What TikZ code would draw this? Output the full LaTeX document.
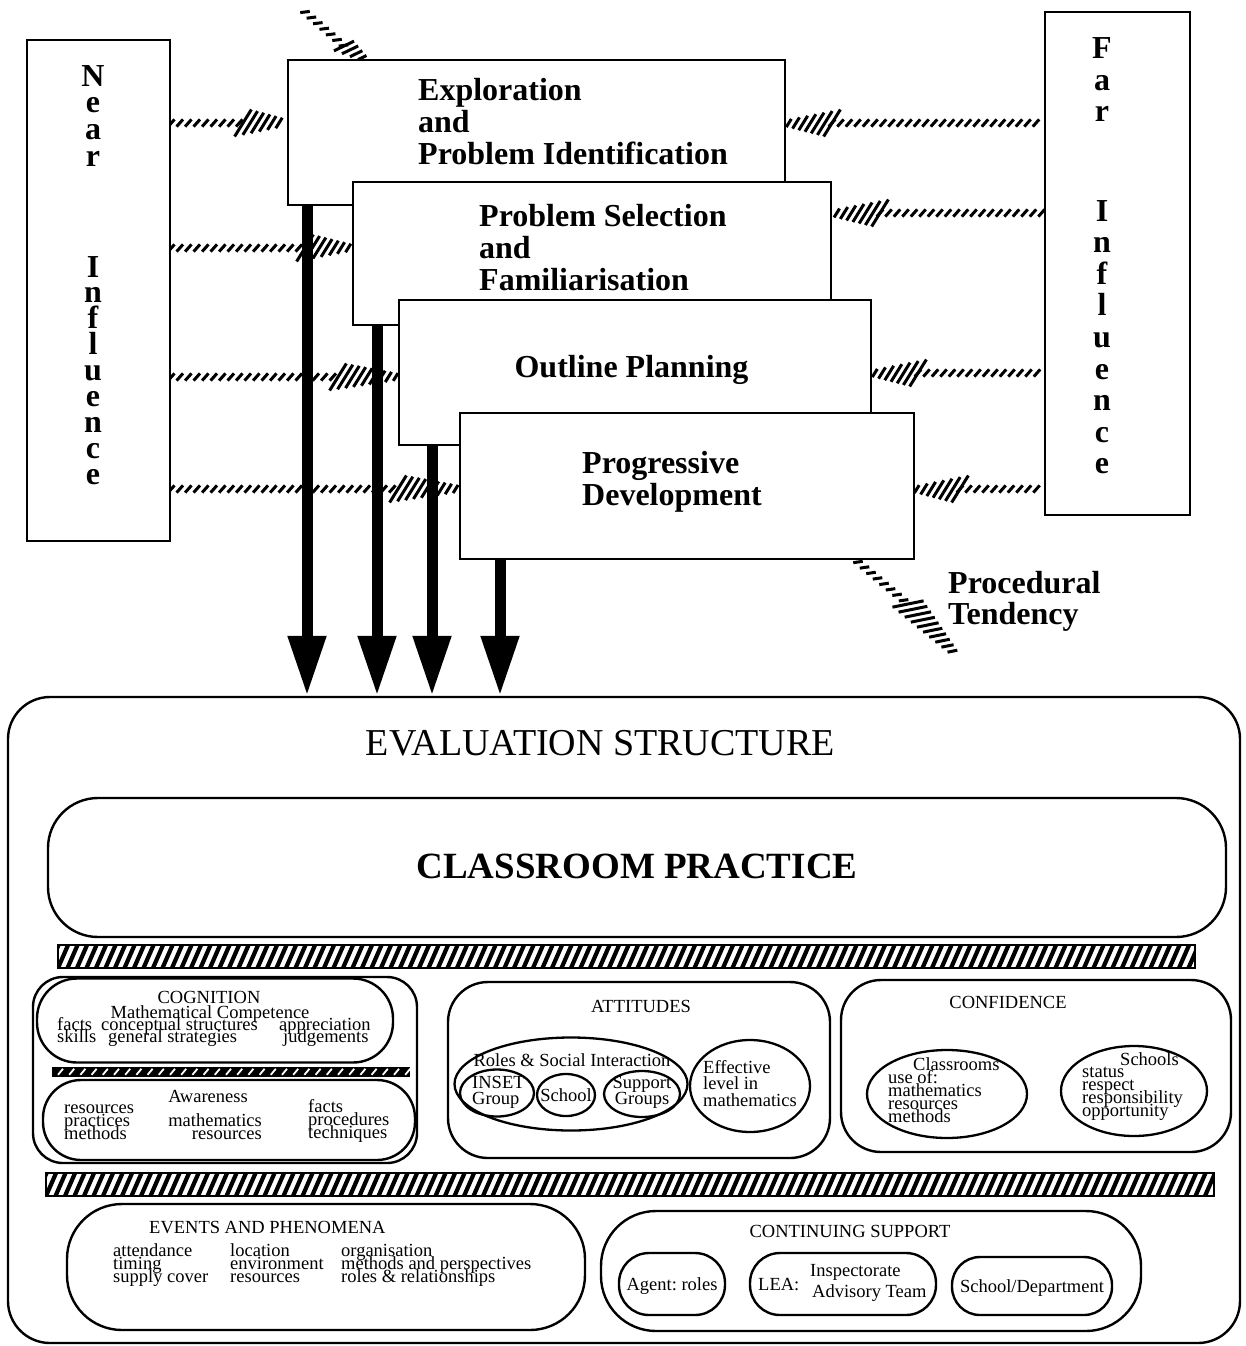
\documentclass[tikz,border=0pt]{standalone}
\usepackage{fontspec}
\setmainfont{Liberation Serif}
\usetikzlibrary{arrows.meta,decorations.markings,shapes.geometric,backgrounds}

% one column of text lines: style, anchor, name prefix, x, first baseline, step, lines
\newcommand\mytextcol[7]{\foreach \txt [count=\i] in {#7} {\node[#1, anchor=#2] (#3\i) at (#4,{#5+(\i-1)*#6}) {\txt};}}

\begin{document}
\begin{tikzpicture}[x=1pt,y=-1pt,
  stage/.style={draw, line width=2.6pt, fill=white, rectangle, inner sep=0pt},
  pane/.style={draw, line width=2.4pt, rectangle, inner sep=0pt},
  oval/.style={draw, line width=2.3pt, ellipse, inner sep=0pt},
  bigtxt/.style={inner sep=0pt, font=\fontsize{32}{32}\selectfont\bfseries, align=left},
  letter/.style={inner sep=0pt, font=\fontsize{32}{32}\selectfont\bfseries},
  sm/.style={inner sep=0pt, font=\fontsize{18.5}{13.5}\selectfont},
  bigarrow/.style={line width=11pt, -{Triangle[width=36pt,length=60pt]}},
  hatchtail/.style={decorate, decoration={markings,
      mark=between positions 0 and 1 step 8.5pt with {\draw[line width=3pt] (-3.2,3.6) -- (3.2,-3.6);}}},
  hatchhead/.style={decorate, decoration={markings,
      mark=between positions 0 and 0.97 step 7.2pt with {%
        \pgfmathsetmacro\hh{3.5+#1*(1-\pgfkeysvalueof{/pgf/decoration/mark info/distance from start}/\pgfdecoratedpathlength)}%
        \draw[line width=3pt] ({-0.62*\hh},\hh) -- ({0.62*\hh},-\hh);}}},
  hatchhead/.default=10,
  stripes/.style={path picture={\foreach \k in {-4,...,#1}
      \draw[line width=4.2pt] ([xshift=\k*9.5pt]path picture bounding box.south west) -- ++(14,-32);}},
  minibar/.style={fill=black, inner sep=0pt, path picture={\foreach \k in {0,...,#1}
      \draw[white, line width=1.8pt] ([xshift=6pt+\k*11.2pt, yshift=2.2pt]path picture bounding box.south west) -- ++(5,-6);}},
]
\useasboundingbox (0,0) rectangle (1245,1346);

% ---------- influences ----------
\node[stage, minimum width=143pt, minimum height=501pt] (near) at (98.5,290.5) {};
\node[stage, minimum width=145pt, minimum height=503pt] (far) at (1117.5,263.5) {};
\mytextcol{letter}{base}{nearA}{93}{86}{26.7}{N,e,a,r}
\mytextcol{letter}{base}{nearB}{93}{277}{25.9}{I,n,f,l,u,e,n,c,e}
\mytextcol{letter}{base}{farA}{1102}{59}{31}{F,a,r}
\mytextcol{letter}{base}{farB}{1102}{221}{31.6}{I,n,f,l,u,e,n,c,e}

% ---------- process stages, each one over the previous ----------
\node[stage, minimum width=497pt, minimum height=145pt] (explore) at (536.5,132.5) {};
\node[bigtxt, anchor=north west] (exploreT) at (418,78) {Exploration\\and\\Problem Identification};
\node[stage, minimum width=478pt, minimum height=143pt] (select) at (592,253.5) {};
\node[bigtxt, anchor=north west] (selectT) at (479,204) {Problem Selection\\and\\Familiarisation};
\node[stage, minimum width=472pt, minimum height=145pt] (plan) at (635,372.5) {};
\node[bigtxt, anchor=base] (planT) at (631.5,377) {Outline Planning};
\node[stage, minimum width=454pt, minimum height=146pt] (develop) at (687,486) {};
\node[bigtxt, anchor=north west] (developT) at (582,451) {Progressive\\Development};
\node[bigtxt, anchor=north west, font=\fontsize{32}{31}\selectfont\bfseries] (procT) at (948,571) {Procedural\\Tendency};

% ---------- hatched influence arrows ----------
\coordinate (l1) at (243,123);
\coordinate (l2) at (305,248);
\coordinate (l3) at (338,377);
\coordinate (l4) at (398,489);
\coordinate (r1) at (832,123);
\coordinate (r2) at (880,213);
\coordinate (r3) at (918,373);
\coordinate (r4) at (960,489);
\coordinate (tp) at (305,12);
\coordinate (tq) at (344,46);
\coordinate (tr) at (364,0);
\coordinate (pa) at (858,562);
\coordinate (pb) at (908,604);
\coordinate (pc) at (956,655);
\begin{scope}[on background layer]
  \path[hatchtail] (l1 -| near.east) -- (l1);
  \path[hatchhead] (l1) -- (l1 -| explore.west);
  \path[hatchtail] (l2 -| near.east) -- (l2);
  \path[hatchhead] (l2) -- (l2 -| select.west);
  \path[hatchtail] (l3 -| near.east) -- (l3);
  \path[hatchhead] (l3) -- (l3 -| plan.west);
  \path[hatchtail] (l4 -| near.east) -- (l4);
  \path[hatchhead] (l4) -- (l4 -| develop.west);
  \path[hatchhead] (r1) -- (r1 -| explore.east);
  \path[hatchtail] (r1) -- (r1 -| far.west);
  \path[hatchhead] (r2) -- (r2 -| select.east);
  \path[hatchtail] (r2) -- (r2 -| far.west);
  \path[hatchhead] (r3) -- (r3 -| plan.east);
  \path[hatchtail] (r3) -- (r3 -| far.west);
  \path[hatchhead] (r4) -- (r4 -| develop.east);
  \path[hatchtail] (r4) -- (r4 -| far.west);
  \path[hatchtail] (tp) -- (tq);
  \path[hatchhead=6] (tq) -- (explore.north -| tr);
  \path[hatchtail] (pa) -- (pb);
  \path[hatchhead] (pb) -- (pc);
\end{scope}

% ---------- evaluation structure ----------
\node[pane, rounded corners=42pt, minimum width=1232pt, minimum height=646pt] (eval) at (624,1020) {};
\node[inner sep=0pt, font=\fontsize{38}{38}\selectfont, anchor=base] (evalT) at (600.5,755) {EVALUATION STRUCTURE};

\coordinate (a1) at (307,0);
\coordinate (a2) at (377,0);
\coordinate (a3) at (432,0);
\coordinate (a4) at (500,0);
\draw[bigarrow] (explore.south -| a1) -- (eval.north -| a1);
\draw[bigarrow] (select.south -| a2) -- (eval.north -| a2);
\draw[bigarrow] (plan.south -| a3) -- (eval.north -| a3);
\draw[bigarrow] (develop.south -| a4) -- (eval.north -| a4);

\node[pane, rounded corners=50pt, minimum width=1178pt, minimum height=139pt] (class) at (637,867.5) {};
\node[inner sep=0pt, font=\fontsize{37}{37}\selectfont\bfseries, anchor=base] (classT) at (637,878) {CLASSROOM PRACTICE};

\node[draw, line width=2.4pt, inner sep=0pt, minimum width=1137pt, minimum height=23pt, stripes=125] (bar1) at (626.5,956.5) {};
\node[draw, line width=2.4pt, inner sep=0pt, minimum width=1168pt, minimum height=23pt, stripes=128] (bar2) at (630,1184.5) {};

% cognition
\node[pane, rounded corners=30pt, minimum width=384pt, minimum height=186pt] (cog) at (225,1070) {};
\node[pane, rounded corners=40pt, minimum width=356pt, minimum height=84pt] (comp) at (215,1020.5) {};
\node[minibar=32, minimum width=358pt, minimum height=10pt] (cogbar) at (231,1072) {};
\node[pane, rounded corners=38pt, minimum width=372pt, minimum height=80pt] (aware) at (229,1120) {};
\node[sm, anchor=base] (cogT) at (209,1003) {COGNITION};
\node[sm, anchor=base] (compT) at (210,1018) {Mathematical Competence};
\mytextcol{sm}{base west}{cogA}{57}{1030}{12.5}{facts,skills}
\node[sm, anchor=base west] (cogB1) at (101,1030) {conceptual structures};
\node[sm, anchor=base west] (cogB2) at (108,1042.5) {general strategies};
\node[sm, anchor=base west] (cogC1) at (279,1030) {appreciation};
\node[sm, anchor=base west] (cogC2) at (283,1042.5) {judgements};
\node[sm, anchor=base] (awareT) at (208,1102) {Awareness};
\mytextcol{sm}{base west}{awA}{64}{1113}{13}{resources,practices,methods}
\mytextcol{sm}{base east}{awB}{262}{1126}{13}{mathematics,resources}
\mytextcol{sm}{base west}{awC}{308}{1112}{13}{facts,procedures,techniques}

% attitudes
\node[pane, rounded corners=40pt, minimum width=382pt, minimum height=176pt] (att) at (639,1070) {};
\node[sm, anchor=base] (attT) at (641,1012) {ATTITUDES};
\node[oval, minimum width=233pt, minimum height=93pt] (roles) at (571,1084) {};
\node[sm, anchor=base] (rolesT) at (572,1066) {Roles \& Social Interaction};
\node[oval, minimum width=74pt, minimum height=47pt] (inset) at (497,1093) {};
\mytextcol{sm}{base west}{insetT}{472}{1088}{16}{INSET,Group}
\node[oval, minimum width=58pt, minimum height=42pt] (school) at (566,1095) {};
\node[sm, anchor=base] (schoolT) at (566,1101) {School};
\node[oval, minimum width=76pt, minimum height=46pt] (support) at (642,1094) {};
\mytextcol{sm}{base}{supportT}{642}{1088}{16}{Support,Groups}
\node[oval, minimum width=120pt, minimum height=92pt] (effective) at (750,1086) {};
\mytextcol{sm}{base west}{effT}{703}{1073}{16.5}{Effective,level in,mathematics}

% confidence
\node[pane, rounded corners=40pt, minimum width=390pt, minimum height=172pt] (conf) at (1036,1066) {};
\node[sm, anchor=base] (confT) at (1008,1008) {CONFIDENCE};
\node[oval, minimum width=160pt, minimum height=88pt] (classrooms) at (947,1094) {};
\node[sm, anchor=base west] (classroomsT) at (913,1070) {Classrooms};
\mytextcol{sm}{base west}{clA}{888}{1083}{13}{use of:,mathematics,resources,methods}
\node[oval, minimum width=146pt, minimum height=90pt] (schools) at (1134,1091) {};
\node[sm, anchor=base west] (schoolsT) at (1120,1065) {Schools};
\mytextcol{sm}{base west}{scA}{1082}{1077}{13}{status,respect,responsibility,opportunity}

% events and phenomena
\node[pane, rounded corners=55pt, minimum width=518pt, minimum height=126pt] (events) at (326,1267) {};
\node[sm, anchor=base west] (eventsT) at (149,1233) {EVENTS AND PHENOMENA};
\mytextcol{sm}{base west}{evA}{113}{1256}{13}{attendance,timing,supply cover}
\mytextcol{sm}{base west}{evB}{230}{1256}{13}{location,environment,resources}
\mytextcol{sm}{base west}{evC}{341}{1256}{13}{organisation,methods and perspectives,roles \& relationships}

% continuing support
\node[pane, rounded corners=55pt, minimum width=540pt, minimum height=120pt] (cont) at (871,1271) {};
\node[sm, anchor=base] (contT) at (850,1237) {CONTINUING SUPPORT};
\node[pane, rounded corners=30pt, minimum width=106pt, minimum height=62pt] (agent) at (672,1284) {};
\node[sm, anchor=base] (agentT) at (672,1290) {Agent:\ roles};
\node[pane, rounded corners=30pt, minimum width=186pt, minimum height=62pt] (lea) at (843,1284) {};
\node[sm, anchor=base west] (leaT) at (758,1290) {LEA:};
\node[sm, anchor=base west] (leaA) at (810,1276) {Inspectorate};
\node[sm, anchor=base west] (leaB) at (812,1297) {Advisory Team};
\node[pane, rounded corners=28pt, minimum width=160pt, minimum height=58pt] (dept) at (1032,1286) {};
\node[sm, anchor=base] (deptT) at (1032,1292) {School/Department};
\end{tikzpicture}
\end{document}
